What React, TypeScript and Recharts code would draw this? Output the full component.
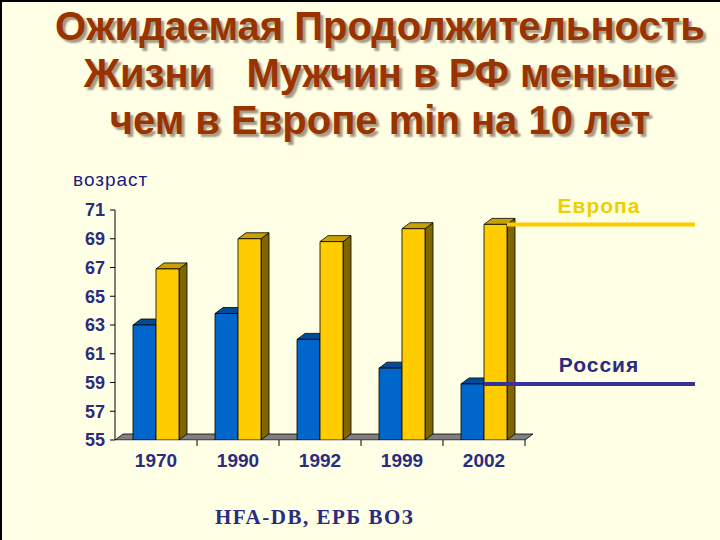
import { BarChart, Bar, XAxis, YAxis, ReferenceLine, ReferenceArea } from "recharts"

const years = ["1970", "1990", "1992", "1999", "2002"]
const russia = [63.0, 63.8, 62.0, 60.0, 58.9]
const europe = [66.9, 69.0, 68.8, 69.7, 70.0]
const yTicks = [55, 57, 59, 61, 63, 65, 67, 69, 71]

const titleLines = ["Ожидаемая Продолжительность", "Жизни\u00a0\u00a0\u00a0Мужчин в РФ меньше", "чем в Европе min на 10 лет"]

const data = years.map((year, i) => ({ year, russia: russia[i], europe: europe[i] }))

const NAVY = "#2b2b80"
const SANS = "'Liberation Sans', Arial, sans-serif"
const DX = 8
const DY = 6
const BAR_SIZE = 23
const LEGEND_END = 695

const make3dBar = (front: string, top: string, side: string) => (props: any) => {
    const { x, y, width: w, height: h } = props
    if (w == null || h == null) return <g />
    return (
        <g stroke="#000" strokeWidth={0.8} strokeLinejoin="round">
            <polygon points={`${x + w},${y} ${x + w + DX},${y - DY} ${x + w + DX},${y + h - DY} ${x + w},${y + h}`} fill={side} />
            <polygon points={`${x},${y} ${x + DX},${y - DY} ${x + w + DX},${y - DY} ${x + w},${y}`} fill={top} />
            <rect x={x} y={y} width={w} height={h} fill={front} />
        </g>
    )
}

const Floor = (props: any) => {
    const { x, y, width: w, height } = props
    const base = y + (height || 0)
    const step = w / years.length
    return (
        <g>
            <polygon
                points={`${x},${base} ${x + w},${base} ${x + w + DX},${base - DY} ${x + DX},${base - DY}`}
                fill="#808080" stroke="#000" strokeWidth={0.8}
            />
            <line x1={x} y1={base + 1} x2={x + w} y2={base + 1} stroke="#fff" strokeWidth={1} />
            {years.map((_, i) => (
                <line key={i} x1={x + step * (i + 1)} y1={base} x2={x + step * (i + 1)} y2={base + 6} stroke="#000" strokeWidth={1} />
            ))}
        </g>
    )
}

// line from the last bar out to the right, with the series name above it
const legendLine = (label: string, color: string, textColor: string, barsBefore: number) => (props: any) => {
    const { x1, x2, y1 } = props
    const band = (x2 - x1) / years.length
    const start = x2 - band / 2 + BAR_SIZE * barsBefore
    return (
        <g>
            <line x1={start} y1={y1} x2={LEGEND_END} y2={y1} stroke={color} strokeWidth={4} />
            <text x={LEGEND_END - 96} y={y1 - 11.5} textAnchor="middle" fill={textColor}
                fontFamily={SANS} fontSize={21} fontWeight="bold" style={{ letterSpacing: 1 }}>
                {label}
            </text>
        </g>
    )
}

export default function App() {
    return (
        <div style={{
            position: "absolute", top: 0, left: 0, width: 720, height: 540, overflow: "hidden",
            background: "#ffffe6", borderTop: "2px solid #000", borderLeft: "2px solid #000", boxSizing: "border-box",
        }}>
            <div style={{
                position: "absolute", top: 1, left: 18, width: 720, textAlign: "center",
                fontFamily: SANS, fontWeight: "bold", fontSize: 40,
                lineHeight: "47px", color: "#993300", textShadow: "3px 3px 2px rgba(80,50,30,0.5)",
            }}>
                {titleLines.map((t, i) => <div key={i}>{t}</div>)}
            </div>
            <div style={{
                position: "absolute", top: 167, left: 71, color: "#1a1a80", fontSize: 19, letterSpacing: 1,
                fontFamily: SANS,
            }}>возраст</div>
            <div style={{ position: "absolute", top: -2, left: -2 }}>
                <BarChart width={720} height={540} data={data} barGap={0} barSize={BAR_SIZE}
                    margin={{ top: 210, right: 195, left: 0, bottom: 0 }}>
                    <ReferenceArea y1={55} y2={55} shape={Floor} />
                    <XAxis dataKey="year" height={100} tickLine={false} axisLine={false} tickSize={0} tickMargin={14}
                        tick={{ fill: NAVY, fontSize: 19, fontWeight: "bold", fontFamily: SANS }} />
                    <YAxis width={115} domain={[55, 71]} ticks={yTicks} interval={0} allowDataOverflow
                        axisLine={{ stroke: "#000" }} tickLine={{ stroke: "#000" }} tickSize={5} tickMargin={5}
                        tick={{ fill: NAVY, fontSize: 18, fontWeight: "bold", fontFamily: SANS }} />
                    <Bar dataKey="russia" isAnimationActive={false} shape={make3dBar("#0066cc", "#004c99", "#003366")} />
                    <Bar dataKey="europe" isAnimationActive={false} shape={make3dBar("#ffcc00", "#c9a000", "#806600")} />
                    <ReferenceLine y={europe[europe.length - 1]} shape={legendLine("Европа", "#ffcc00", "#f0cf00", 1)} />
                    <ReferenceLine y={russia[russia.length - 1]} shape={legendLine("Россия", "#333399", NAVY, 0)} />
                </BarChart>
            </div>
            <div style={{
                position: "absolute", top: 503, left: 213, color: NAVY, fontSize: 21, fontWeight: "bold", letterSpacing: 1.5,
                fontFamily: "'Liberation Serif', 'Times New Roman', serif",
            }}>HFA-DB, ЕРБ ВОЗ</div>
        </div>
    )
}
